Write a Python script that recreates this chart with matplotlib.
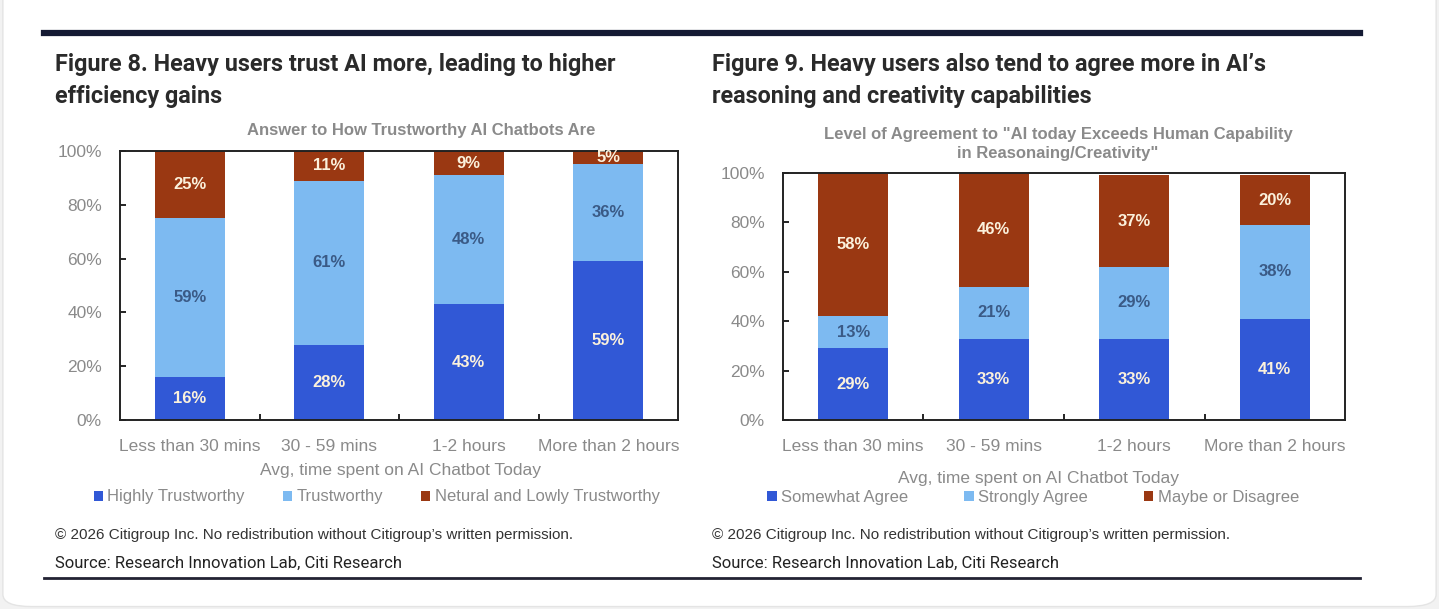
import matplotlib.pyplot as plt
import numpy as np
from matplotlib.patches import FancyBboxPatch

# data
time_cats = ["Less than 30 mins", "30 - 59 mins", "1-2 hours", "More than 2 hours"]

highly_trust = [16, 28, 43, 59]
trustworthy = [59, 61, 48, 36]
neutral_low = [25, 11, 9, 5]
trust_names = ["Highly Trustworthy", "Trustworthy", "Netural and Lowly Trustworthy"]

somewhat_agree = [29, 33, 33, 41]
strongly_agree = [13, 21, 29, 38]
maybe_disagree = [58, 46, 37, 20]
agree_names = ["Somewhat Agree", "Strongly Agree", "Maybe or Disagree"]

DARK = "#3158d6"
LIGHT = "#7dbaf1"
BROWN = "#9a3812"
GREY = "#8a8a8a"
NARROW = ["Liberation Sans", "DejaVu Sans"]
TITLE = ["Roboto", "DejaVu Sans"]

W = 1439.0
H = 609.0

fig = plt.figure(figsize=(14.39, 6.09), dpi=100)
fig.patch.set_facecolor("#f2f2f2")
card = FancyBboxPatch((0.002, 0.004), 0.996, 1.2, boxstyle="round,pad=0,rounding_size=0.02",
                      transform=fig.transFigure, facecolor="white", edgecolor="#e4e4e4",
                      linewidth=1, zorder=-10)
fig.patches.append(card)


def stacked(ax, series, names, colors, txtcols):
    x = np.arange(len(time_cats))
    bottom = np.zeros(len(time_cats))
    for vals, name, col, tc in zip(series, names, colors, txtcols):
        vals = np.array(vals)
        ax.bar(x, vals, 0.5, bottom=bottom, color=col, label=name, zorder=2)
        for xi, b, v in zip(x, bottom, vals):
            ax.text(xi, b + v / 2, f"{v}%", ha="center", va="center", color=tc,
                    fontsize=12, fontweight="bold", family=NARROW, zorder=3)
        bottom += vals
    ax.set_xlim(-0.5, 3.5)
    ax.set_ylim(0, 100)
    ax.set_yticks(range(0, 101, 20))
    ax.set_yticklabels([f"{t}%" for t in range(0, 101, 20)], family=NARROW, fontsize=12.5, color=GREY)
    ax.set_xticks(x)
    ax.set_xticklabels(time_cats, family=NARROW, fontsize=12.5, color=GREY)
    ax.set_xticks(np.arange(0.5, 3, 1), minor=True)
    ax.tick_params(axis="x", which="major", length=0, pad=14)
    ax.tick_params(axis="x", which="minor", direction="in", length=4, width=1.2)
    ax.tick_params(axis="y", direction="in", length=4, width=1.2, pad=13)
    for s in ax.spines.values():
        s.set_linewidth(1.4)
        s.set_color("#222222")


ax1 = fig.add_axes([0.0834, 0.3103, 0.3878, 0.4417])
stacked(ax1, [highly_trust, trustworthy, neutral_low], trust_names,
        [DARK, LIGHT, BROWN], ["#fbf1dc", "#3a5a86", "#fbf1dc"])
ax1.legend(loc="center", bbox_to_anchor=(0.46, -0.286), ncol=3, frameon=False,
           handlelength=0.55, handleheight=0.55, handletextpad=0.25, columnspacing=2.3,
           prop={"family": NARROW, "size": 12}, labelcolor=GREY)

ax2 = fig.add_axes([0.5441, 0.3103, 0.3906, 0.4056])
stacked(ax2, [somewhat_agree, strongly_agree, maybe_disagree], agree_names,
        [DARK, LIGHT, BROWN], ["#fbf1dc", "#3a5a86", "#fbf1dc"])
ax2.legend(loc="center", bbox_to_anchor=(0.445, -0.312), ncol=3, frameon=False,
           handlelength=0.55, handleheight=0.55, handletextpad=0.25, columnspacing=3.4,
           prop={"family": NARROW, "size": 12}, labelcolor=GREY)

# headline rules
fig.add_artist(plt.Line2D([44 / W, 1360 / W], [1 - 33 / H] * 2, color="#141a33", lw=4.5))
fig.add_artist(plt.Line2D([44 / W, 1360 / W], [1 - 578 / H] * 2, color="#222233", lw=2))

# figure titles
fig.text(55 / W, 1 - 53 / H, "Figure 8. Heavy users trust AI more, leading to higher\nefficiency gains",
         family=TITLE, fontweight="bold", fontsize=16.8, color="#2a2a2a", va="top",
         linespacing=1.52)
fig.text(712 / W, 1 - 53 / H, "Figure 9. Heavy users also tend to agree more in AI\u2019s\nreasoning and creativity capabilities",
         family=TITLE, fontweight="bold", fontsize=16.8, color="#2a2a2a", va="top",
         linespacing=1.52)

# chart subtitles
fig.text(421 / W, 1 - 131 / H, "Answer to How Trustworthy AI Chatbots Are", family=NARROW,
         fontsize=12, fontweight="bold", color=GREY, ha="center", va="center")
fig.text(1058 / W, 1 - 144 / H, "Level of Agreement to \"AI today Exceeds Human Capability\nin Reasonaing/Creativity\"",
         family=NARROW, fontsize=12, fontweight="bold", color=GREY, ha="center", va="center",
         linespacing=1.35)

# axis titles
fig.text(401 / W, 1 - 471 / H, "Avg, time spent on AI Chatbot Today", family=NARROW,
         fontsize=12.5, color=GREY, ha="center", va="center")
fig.text(1038 / W, 1 - 478 / H, "Avg, time spent on AI Chatbot Today", family=NARROW,
         fontsize=12.5, color=GREY, ha="center", va="center")

# footers
for x0 in (55, 712):
    fig.text(x0 / W, 1 - 535 / H, "\u00a9 2026 Citigroup Inc. No redistribution without Citigroup\u2019s written permission.",
             family=NARROW, fontsize=11, color="#333333", va="center")
    fig.text(x0 / W, 1 - 563 / H, "Source: Research Innovation Lab, Citi Research",
             family=TITLE, fontsize=12, color="#222222", va="center")

fig.savefig("out.png", dpi=100, facecolor=fig.get_facecolor())
